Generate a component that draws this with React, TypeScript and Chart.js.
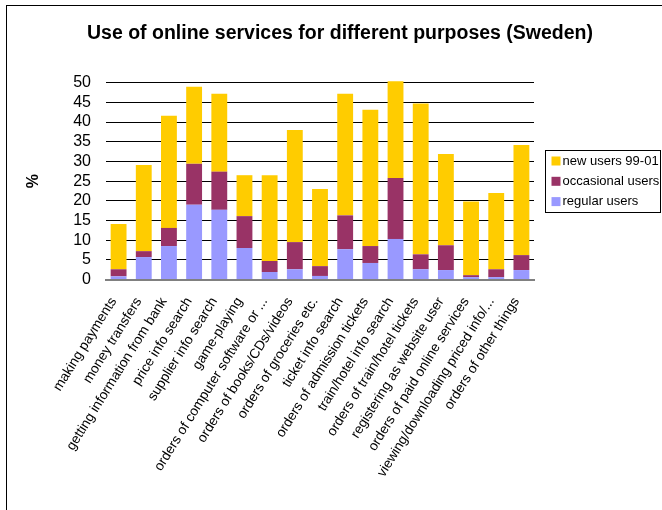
import React, { useEffect, useRef } from 'react';
import { Chart, registerables } from 'chart.js';

Chart.register(...registerables);

const categories = [
  'making payments',
  'money transfers',
  'getting information from bank',
  'price info search',
  'supplier info search',
  'game-playing',
  'orders of computer software or ...',
  'orders of books/CDs/videos',
  'orders of groceries etc.',
  'ticket info search',
  'orders of admission tickets',
  'train/hotel info search',
  'orders of train/hotel tickets',
  'registering as website user',
  'orders of paid online services',
  'viewing/downloading priced info/...',
  'orders of other things',
];

const regularUsers = [0.8, 5.7, 8.5, 19.0, 17.7, 8.0, 1.9, 2.6, 0.9, 7.7, 4.2, 10.3, 2.6, 2.4, 0.6, 0.6, 2.4];
const occasionalUsers = [1.8, 1.5, 4.6, 10.4, 9.7, 8.1, 2.8, 6.9, 2.5, 8.6, 4.3, 15.5, 3.8, 6.3, 0.5, 2.0, 3.8];
const newUsers = [11.5, 21.9, 28.5, 19.6, 19.8, 10.4, 21.8, 28.5, 19.6, 30.9, 34.6, 24.6, 38.3, 23.2, 18.7, 19.4, 28.0];

const seriesLabels = ['regular users', 'occasional users', 'new users 99-01'];
const seriesColors = ['#9999FF', '#993366', '#FFCC00'];

const titleText = 'Use of online services for different purposes (Sweden)';
const yAxisTitle = '%';
const yMin = 0;
const yMax = 50;
const yStep = 5;

const FONT = '"Liberation Sans", Arial, sans-serif';

const boxLegend = {
  id: 'boxLegend',
  afterDraw(chart: any) {
    const { ctx, chartArea } = chart;
    const w = 115;
    const h = 62;
    const x = Math.round(chartArea.right + 11) + 0.5;
    const y = Math.round((chartArea.top + chartArea.bottom) / 2 - h / 2) + 0.5;
    ctx.save();
    ctx.strokeStyle = '#000';
    ctx.lineWidth = 1;
    ctx.strokeRect(x, y, w, h);
    const items = [...chart.data.datasets].reverse();
    ctx.font = `13px ${FONT}`;
    ctx.textBaseline = 'middle';
    ctx.textAlign = 'left';
    items.forEach((ds: any, i: number) => {
      const cy = y + 10.5 + i * 20.3;
      ctx.fillStyle = ds.backgroundColor;
      ctx.fillRect(x + 6, cy - 4.5, 9, 9);
      ctx.fillStyle = '#000';
      ctx.fillText(ds.label, x + 17, cy);
    });
    ctx.restore();
  },
};

export default function App() {
  const canvasRef = useRef<HTMLCanvasElement | null>(null);

  useEffect(() => {
    const canvas = canvasRef.current;
    if (!canvas) return;
    const values = [regularUsers, occasionalUsers, newUsers];
    const chart = new Chart(canvas, {
      type: 'bar',
      data: {
        labels: categories,
        datasets: values.map((v, i) => ({
          label: seriesLabels[i],
          data: v,
          backgroundColor: seriesColors[i],
          borderWidth: 0,
          barPercentage: 0.63,
          categoryPercentage: 1,
          clip: false as any,
        })),
      },
      options: {
        responsive: false,
        animation: false,
        devicePixelRatio: 1,
        layout: { padding: { left: 18, right: 0, top: 0, bottom: 0 } },
        plugins: {
          legend: { display: false },
          tooltip: { enabled: false },
          title: {
            display: true,
            text: titleText,
            color: '#000',
            font: { family: FONT, size: 19.5, weight: 'bold' },
            padding: { top: 22.3, bottom: 37 },
          },
        },
        scales: {
          x: {
            stacked: true,
            grid: { display: false, drawTicks: false },
            border: { display: true, color: '#808080', width: 2 },
            ticks: {
              color: '#000',
              font: { family: FONT, size: 13.7 },
              minRotation: 58,
              maxRotation: 58,
              autoSkip: false,
              padding: 15,
              labelOffset: -5,
            },
            afterFit: (s: any) => {
              s.height = 230.5;
            },
          },
          y: {
            stacked: true,
            min: yMin,
            max: yMax,
            grid: { color: '#000', lineWidth: 1, drawTicks: false },
            border: { display: false },
            ticks: {
              stepSize: yStep,
              autoSkip: false,
              color: '#000',
              font: { family: FONT, size: 16 },
              padding: 15,
            },
            title: {
              display: true,
              text: yAxisTitle,
              color: '#000',
              font: { family: FONT, size: 16, weight: 'bold' },
              padding: { top: 6, bottom: 0 },
            },
            afterFit: (s: any) => {
              s.width = 88;
            },
          },
          yRight: {
            position: 'right',
            display: true,
            grid: { display: false, drawTicks: false },
            border: { display: false },
            ticks: { display: false },
            afterFit: (s: any) => {
              s.width = 128;
            },
          },
        },
      },
      plugins: [boxLegend],
    } as any);
    return () => chart.destroy();
  }, []);

  return (
    <div style={{ position: 'fixed', left: 0, top: 0, width: 662, height: 510, overflow: 'hidden', background: '#fff' }}>
      <div
        style={{
          position: 'absolute',
          left: 6,
          top: 5,
          width: 700,
          height: 600,
          borderTop: '1px solid #000',
          borderLeft: '1px solid #000',
        }}
      />
      <canvas ref={canvasRef} width={662} height={510} style={{ position: 'absolute', left: 0, top: 0, display: 'block' }} />
    </div>
  );
}
